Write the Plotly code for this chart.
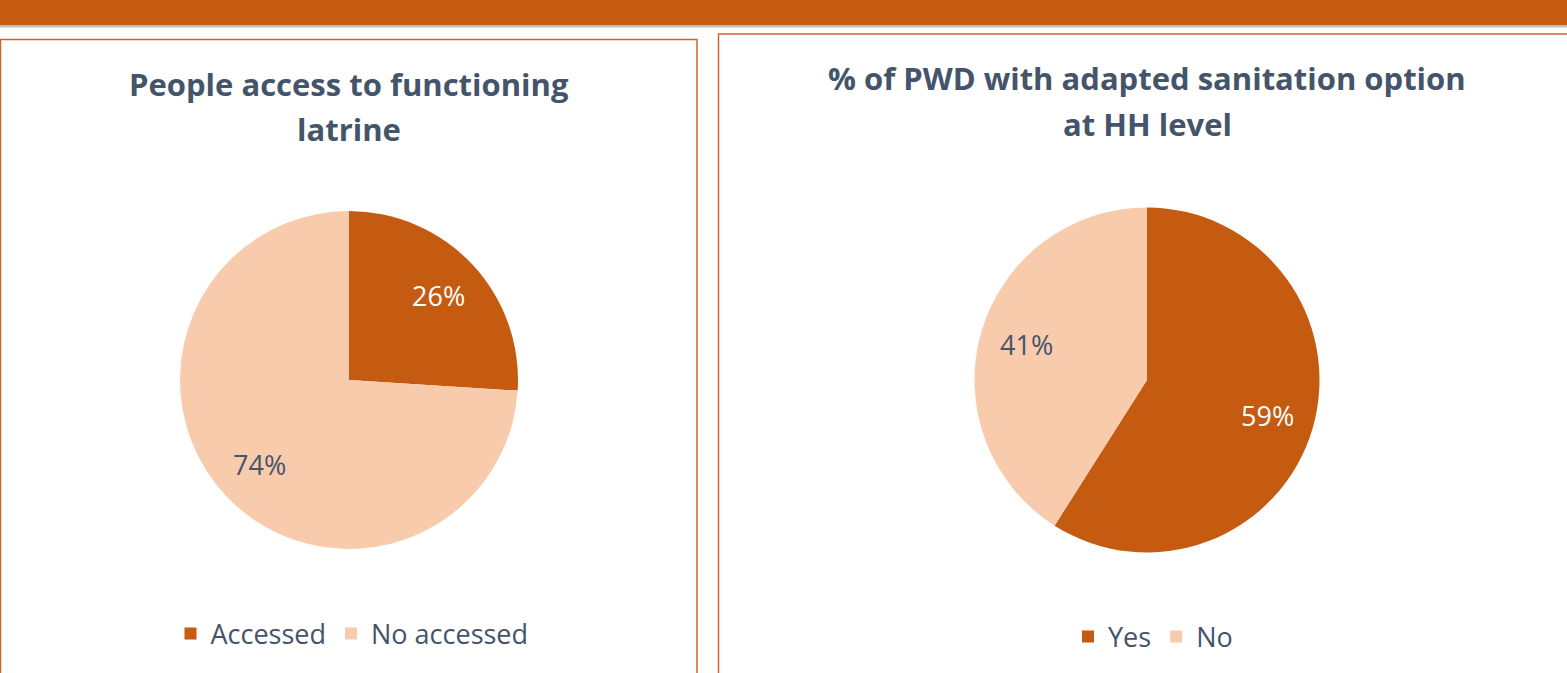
import math
import plotly.graph_objects as go

W, H = 1567, 673
DARK = "#C55A11"
LIGHT = "#F8CBAD"
TXT = "#44546A"

left_title = ["People access to functioning", "latrine"]
left_labels = ["Accessed", "No accessed"]
left_values = [26, 74]

right_title = ["% of PWD with adapted sanitation option", "at HH level"]
right_labels = ["Yes", "No"]
right_values = [59, 41]

FONT = "Open Sans"
LABEL_RADIUS_FRAC = 0.73


def px_x(p):
    return p / W


def px_y(p):
    return 1 - p / H


fig = go.Figure()
annotations = []


def add_pie(labels, values, cx, cy, r, legend_name, title_lines, title_y):
    fig.add_trace(go.Pie(
        labels=labels, values=values, sort=False, direction="clockwise", rotation=0,
        marker=dict(colors=[DARK, LIGHT], line=dict(width=0)),
        textinfo="none",
        domain=dict(x=[px_x(cx - r), px_x(cx + r)], y=[px_y(cy + r), px_y(cy - r)]),
        legend=legend_name, hoverinfo="label+percent",
    ))
    total = sum(values)
    cum = 0
    colors = ["white", TXT]
    for i, v in enumerate(values):
        mid = (cum + v / 2) / total * 2 * math.pi
        cum += v
        x = cx + LABEL_RADIUS_FRAC * r * math.sin(mid)
        y = cy - LABEL_RADIUS_FRAC * r * math.cos(mid)
        annotations.append(dict(
            text=f"{round(v / total * 100)}%", x=px_x(x), y=px_y(y), xref="paper", yref="paper",
            xanchor="center", yanchor="middle", showarrow=False,
            font=dict(family=FONT, size=27, color=colors[i])))
    for j, line in enumerate(title_lines):
        annotations.append(dict(
            text="<b>" + line + "</b>", x=px_x(cx), y=px_y(title_y[j]), xref="paper", yref="paper",
            xanchor="center", yanchor="middle", showarrow=False,
            font=dict(family=FONT, size=31, color=TXT)))


add_pie(left_labels, left_values, 349, 380, 169, "legend", left_title, [84, 129])
add_pie(right_labels, right_values, 1147, 380, 172.5, "legend2", right_title, [78, 124])

shapes = [
    dict(type="rect", xref="paper", yref="paper", x0=0, x1=1, y0=px_y(25), y1=1.01,
         fillcolor=DARK, line=dict(width=0), layer="below"),
    dict(type="rect", xref="paper", yref="paper", x0=0, x1=1, y0=px_y(27.5), y1=px_y(25),
         fillcolor="#BFBFBF", line=dict(width=0), layer="below"),
    dict(type="rect", xref="paper", yref="paper", x0=px_x(0.5), x1=px_x(697), y0=-0.05, y1=px_y(39.5),
         fillcolor="rgba(0,0,0,0)", line=dict(color="#D0652A", width=1.5), layer="below"),
    dict(type="rect", xref="paper", yref="paper", x0=px_x(718.5), x1=1.05, y0=-0.05, y1=px_y(34),
         fillcolor="rgba(0,0,0,0)", line=dict(color="#D0652A", width=1.5), layer="below"),
]

fig.update_layout(
    width=W, height=H, margin=dict(l=0, r=0, t=0, b=0),
    paper_bgcolor="white", plot_bgcolor="white",
    shapes=shapes, annotations=annotations,
    font=dict(family=FONT, color=TXT),
    legend=dict(orientation="h", x=px_x(352), y=px_y(634), xanchor="center", yanchor="middle",
                font=dict(size=27, color=TXT, family=FONT), itemclick=False),
    legend2=dict(orientation="h", x=px_x(1153), y=px_y(637), xanchor="center", yanchor="middle",
                 font=dict(size=27, color=TXT, family=FONT), itemclick=False),
    showlegend=True,
)

fig.write_html("out.html", config={"displayModeBar": False},
               post_script="document.body.style.margin='0';document.body.style.overflow='hidden';")
